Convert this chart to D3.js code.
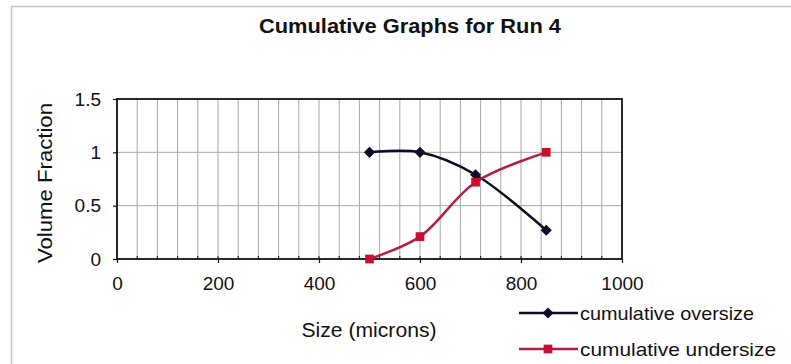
<!DOCTYPE html>
<html>
<head>
<meta charset="utf-8">
<script src="https://cdn.jsdelivr.net/npm/d3@7"></script>
<style>
  html, body { margin: 0; padding: 0; background: #fff; }
  svg { display: block; }
  text { font-family: Arial, "Liberation Sans", sans-serif; fill: #111; }
</style>
</head>
<body>
<svg id="chart" width="791" height="364"></svg>
<script>
// Sieve sizes (microns) and cumulative volume fractions for run 4
const sizes = [500, 600, 710, 850];
const oversize = [1.0, 1.0, 0.79, 0.27];
const undersize = [0.0, 0.21, 0.72, 1.0];

const xTicks = [0, 200, 400, 600, 800, 1000];
const yTicks = [0, 0.5, 1, 1.5];
const seriesNames = ["cumulative oversize", "cumulative undersize"];

const svg = d3.select("#chart");
const W = 791, H = 364;

// page frame
svg.append("rect").attr("x", 11.5).attr("y", 6.5).attr("width", W).attr("height", H)
  .attr("fill", "none").attr("stroke", "#c8c8c8").attr("stroke-width", 1.5);

const plot = { left: 117, right: 622, top: 99, bottom: 259 };
const x = d3.scaleLinear().domain([0, 1000]).range([plot.left, plot.right]);
const y = d3.scaleLinear().domain([0, 1.5]).range([plot.bottom, plot.top]);

// gridlines
const grid = svg.append("g").attr("stroke", "#a8a8a8").attr("stroke-width", 1);
grid.selectAll("line.v").data(d3.range(40, 1000, 40)).join("line")
  .attr("x1", d => x(d)).attr("x2", d => x(d))
  .attr("y1", plot.top).attr("y2", plot.bottom);
grid.selectAll("line.h").data([0.5, 1]).join("line")
  .attr("x1", plot.left).attr("x2", plot.right)
  .attr("y1", d => y(d)).attr("y2", d => y(d));

// plot border
svg.append("rect").attr("x", plot.left).attr("y", plot.top)
  .attr("width", plot.right - plot.left).attr("height", plot.bottom - plot.top)
  .attr("fill", "none").attr("stroke", "#111").attr("stroke-width", 1.8);

// axes
const xAxis = svg.append("g").attr("transform", `translate(0,${plot.bottom})`)
  .call(d3.axisBottom(x).tickValues(xTicks).tickSize(4).tickPadding(10).tickFormat(d3.format("d")));
const yAxis = svg.append("g").attr("transform", `translate(${plot.left},0)`)
  .call(d3.axisLeft(y).tickValues(yTicks).tickSize(4).tickPadding(12).tickFormat(d => String(d)));
[xAxis, yAxis].forEach(a => {
  a.select(".domain").remove();
  a.selectAll(".tick line").attr("stroke", "#111").attr("stroke-width", 1.2);
  a.selectAll(".tick text").attr("font-size", 19).attr("fill", "#111")
    .attr("font-family", "Arial, 'Liberation Sans', sans-serif");
});
xAxis.selectAll(".tick text").attr("dy", "0.9em");

// minor ticks on x axis at each gridline
svg.append("g").selectAll("line").data(d3.range(40, 1000, 40)).join("line")
  .attr("x1", d => x(d)).attr("x2", d => x(d))
  .attr("y1", plot.bottom - 3).attr("y2", plot.bottom)
  .attr("stroke", "#111").attr("stroke-width", 1);

// titles
svg.append("text").attr("x", 410).attr("y", 33).attr("text-anchor", "middle")
  .attr("font-size", 20).attr("font-weight", "bold")
  .attr("textLength", 302).attr("lengthAdjust", "spacingAndGlyphs")
  .text("Cumulative Graphs for Run 4");
svg.append("text").attr("x", 369).attr("y", 337).attr("text-anchor", "middle")
  .attr("font-size", 19.5).attr("textLength", 135).attr("lengthAdjust", "spacingAndGlyphs")
  .text("Size (microns)");
svg.append("text").attr("transform", "translate(52,183) rotate(-90)")
  .attr("text-anchor", "middle").attr("font-size", 20)
  .attr("textLength", 160).attr("lengthAdjust", "spacingAndGlyphs")
  .text("Volume Fraction");

// series
const series = [
  { name: seriesNames[0], values: oversize, line: "#0d0d2a", fill: "#0d0d2a", rotate: 45, size: 62 },
  { name: seriesNames[1], values: undersize, line: "#b01f48", fill: "#c8102e", rotate: 0, size: 76 }
];

const lineGen = d3.line().x(d => x(d[0])).y(d => y(d[1])).curve(d3.curveCatmullRom.alpha(0.5));
const marker = s => d3.symbol().type(d3.symbolSquare).size(s.size)();

series.forEach(s => {
  const pts = sizes.map((v, i) => [v, s.values[i]]);
  svg.append("path").attr("d", lineGen(pts)).attr("fill", "none")
    .attr("stroke", s.line).attr("stroke-width", 2.5);
  svg.append("g").selectAll("path").data(pts).join("path")
    .attr("transform", d => `translate(${x(d[0])},${y(d[1])}) rotate(${s.rotate})`)
    .attr("d", marker(s))
    .attr("fill", s.fill);
});

// legend
const legend = svg.append("g");
series.forEach((s, i) => {
  const cy = 313 + i * 36;
  legend.append("line").attr("x1", 519).attr("x2", 578).attr("y1", cy).attr("y2", cy)
    .attr("stroke", s.line).attr("stroke-width", 2.5);
  legend.append("path").attr("transform", `translate(548,${cy}) rotate(${s.rotate})`)
    .attr("d", marker(s)).attr("fill", s.fill);
  legend.append("text").attr("x", 580).attr("y", cy + 6.5).attr("font-size", 18.5)
    .attr("textLength", i === 0 ? 174 : 196).attr("lengthAdjust", "spacingAndGlyphs")
    .text(s.name);
});
</script>
</body>
</html>
